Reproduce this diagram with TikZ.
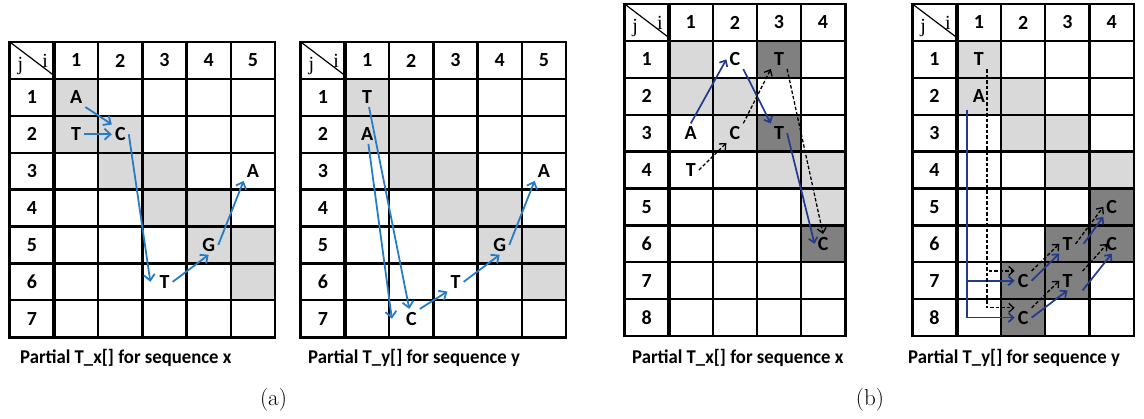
\documentclass[tikz,border=0pt]{standalone}
\usepackage{
	fontspec,			% System Fonts
	tikz
}
\usetikzlibrary{arrows.meta}

\newfontfamily\cellfont{Carlito}
\newfontfamily\idxfont{Liberation Serif}

\definecolor{litecell}{RGB}{217,217,217}
\definecolor{darkcell}{RGB}{128,128,128}
\definecolor{linkblue}{RGB}{38,124,198}
\definecolor{linknavy}{RGB}{34,58,140}

\tikzset{
	letter/.style={font=\cellfont\bfseries\fontsize{20}{20}\selectfont, inner sep=3pt},
	idx/.style={font=\idxfont\fontsize{20}{20}\selectfont, inner sep=0pt, anchor=base},
	gridline/.style={line width=2.3pt},
	caption/.style={font=\cellfont\bfseries\fontsize{19.5}{20}\selectfont, inner sep=0pt, anchor=base west, xscale=0.96},
	subcap/.style={font=\fontsize{23}{23}\selectfont, inner sep=0pt, anchor=base},
	bluearrow/.style={draw=linkblue, line width=1.8pt, -{Straight Barb[length=6pt,width=11pt]}},
	navyarrow/.style={draw=linknavy, line width=1.7pt, -{Straight Barb[length=5pt,width=9pt]}},
	dasharrow/.style={draw=black, line width=1.3pt, dash pattern=on 3.5pt off 2pt, -{Straight Barb[length=5pt,width=9pt]}}
}

% table with header row/column: #1 name, #2 columns, #3 rows
\newcommand{\drawtable}[3]{%
	\foreach \cc in {1,...,#2}
		\node[letter] (#1-c\cc) at (\cc-0.5,-0.5) {\cc};
	\foreach \rr in {1,...,#3}
		\node[letter] (#1-r\rr) at (-0.5,\rr-0.5) {\rr};
	\foreach \cc in {1,...,#2}
		\draw[gridline] (\cc,-1) -- (\cc,#3);
	\foreach \rr in {0,...,#3}
		\draw[gridline] (-1,\rr) -- (#2,\rr);
	\draw[line width=3.6pt] (0,-1) -- (0,#3);
	\draw[line width=2.8pt] (-1,-1) rectangle (#2,#3);
	\draw[line width=1.2pt] (-1,-1) -- (-0.03,-0.12);
	\node[idx] (#1-j) at (-0.76,-0.22) {j};
	\node[idx] (#1-i) at (-0.2,-0.3) {i};
}

\begin{document}
\begin{tikzpicture}[x=1pt,y=-1pt]
	\useasboundingbox (0,0) rectangle (1144,419);

	% (a) T_x
	\begin{scope}[shift={(54,78.9)},x=44.2pt,y=-36.9pt]
		\foreach \cc/\rr in {1/1,1/2,2/2,2/3,3/3,3/4,4/4,4/5,5/5,5/6}
			\fill[litecell] (\cc-1,\rr-1) rectangle (\cc,\rr);
		\drawtable{ax}{5}{7}
		\node[letter] (ax11) at (0.5,0.5) {A};
		\node[letter] (ax12) at (0.5,1.5) {T};
		\node[letter] (ax22) at (1.5,1.5) {C};
		\node[letter] (ax36) at (2.5,5.5) {T};
		\node[letter] (ax45) at (3.5,4.5) {G};
		\node[letter] (ax53) at (4.5,2.5) {A};
		\draw[bluearrow] (ax11.south east) -- (ax22.north west);
		\draw[bluearrow] (ax12) -- (ax22);
		\draw[bluearrow] (ax22.east) -- ([xshift=-6pt]ax36.west);
		\draw[bluearrow] (ax36.east) -- (ax45.south);
		\draw[bluearrow] (ax45.east) -- (ax53.south west);
	\end{scope}

	% (a) T_y
	\begin{scope}[shift={(345,78.9)},x=44.2pt,y=-36.9pt]
		\foreach \cc/\rr in {1/1,1/2,2/2,2/3,3/3,3/4,4/4,4/5,5/5,5/6}
			\fill[litecell] (\cc-1,\rr-1) rectangle (\cc,\rr);
		\drawtable{ay}{5}{7}
		\node[letter] (ay11) at (0.5,0.5) {T};
		\node[letter] (ay12) at (0.5,1.5) {A};
		\node[letter] (ay27) at (1.5,6.5) {C};
		\node[letter] (ay36) at (2.5,5.5) {T};
		\node[letter] (ay45) at (3.5,4.5) {G};
		\node[letter] (ay53) at (4.5,2.5) {A};
		\coordinate (ay-tip) at (1.06,6.5);
		\draw[bluearrow] (ay11) -- (ay27);
		\draw[bluearrow] (ay12) -- (ay-tip);
		\draw[bluearrow] (ay27.north east) -- (ay36.south west);
		\draw[bluearrow] (ay36.east) -- (ay45.south);
		\draw[bluearrow] (ay45.east) -- (ay53.south west);
	\end{scope}

	% (b) T_x
	\begin{scope}[shift={(668.7,40.9)},x=44.1pt,y=-36.9pt]
		\foreach \cc/\rr in {1/1,1/2,2/2,2/3,3/4,4/4,4/5}
			\fill[litecell] (\cc-1,\rr-1) rectangle (\cc,\rr);
		\foreach \cc/\rr in {3/1,3/3,4/6}
			\fill[darkcell] (\cc-1,\rr-1) rectangle (\cc,\rr);
		\drawtable{bx}{4}{8}
		\node[letter] (bx21) at (1.5,0.5) {C};
		\node[letter] (bx31) at (2.5,0.5) {T};
		\node[letter] (bx13) at (0.5,2.5) {A};
		\node[letter] (bx23) at (1.5,2.5) {C};
		\node[letter] (bx33) at (2.5,2.5) {T};
		\node[letter] (bx14) at (0.5,3.5) {T};
		\node[letter] (bx46) at (3.5,5.5) {C};
		\draw[navyarrow] (bx13.north) -- (bx21.west);
		\draw[navyarrow] (bx21.south east) -- (bx33.north west);
		\draw[navyarrow] (bx33.east) -- (bx46.west);
		\draw[dasharrow] (bx14.east) -- (bx23.south west);
		\draw[dasharrow] (bx23.north east) -- (bx31.south west);
		\draw[dasharrow] (bx31.south east) -- (bx46.north);
	\end{scope}

	% (b) T_y
	\begin{scope}[shift={(956.7,40.9)},x=44.3pt,y=-36.9pt]
		\foreach \cc/\rr in {1/1,1/2,2/2,2/3,3/3,3/4,4/4}
			\fill[litecell] (\cc-1,\rr-1) rectangle (\cc,\rr);
		\foreach \cc/\rr in {4/5,3/6,4/6,2/7,3/7,2/8}
			\fill[darkcell] (\cc-1,\rr-1) rectangle (\cc,\rr);
		\drawtable{by}{4}{8}
		\node[letter] (by11) at (0.5,0.5) {T};
		\node[letter] (by12) at (0.5,1.5) {A};
		\node[letter] (by45) at (3.5,4.5) {C};
		\node[letter] (by36) at (2.5,5.5) {T};
		\node[letter] (by46) at (3.5,5.5) {C};
		\node[letter] (by27) at (1.5,6.5) {C};
		\node[letter] (by37) at (2.5,6.5) {T};
		\node[letter] (by28) at (1.5,7.5) {C};
		\coordinate (by-stem) at (0.24,1.87);
		\draw[navyarrow] (by-stem) |- (by27.west);
		\draw[navyarrow] (by-stem) |- (by28.west);
		\draw[dasharrow] (by11.south east) |- (by27.north west);
		\draw[dasharrow] (by11.south east) |- (by28.north west);
		\draw[dasharrow] (by27.north east) -- (by36.west);
		\draw[navyarrow] (by27.east) -- (by36.south west);
		\draw[dasharrow] (by28.north east) -- (by37.west);
		\draw[navyarrow] (by28.east) -- (by37.south);
		\draw[dasharrow] (by36.east) -- (by45.west);
		\draw[navyarrow] ([xshift=8pt]by36.east) -- (by45.south west);
		\draw[dasharrow] ([xshift=7pt]by37.north east) -- ([xshift=4pt]by46.west);
		\draw[navyarrow] ([xshift=7pt]by37.south east) -- (by46.south);
	\end{scope}

	% captions
	\node[caption] (cap-ax) at (20,363.5) {Partial T\_x[] for sequence x};
	\node[caption] (cap-ay) at (308,363.5) {Partial T\_y[] for sequence y};
	\node[caption] (cap-bx) at (632,363.5) {Partial T\_x[] for sequence x};
	\node[caption] (cap-by) at (908,363.5) {Partial T\_y[] for sequence y};
	\node[subcap] (sub-a) at (273.5,406) {(a)};
	\node[subcap] (sub-b) at (870,406) {(b)};
\end{tikzpicture}
\end{document}
